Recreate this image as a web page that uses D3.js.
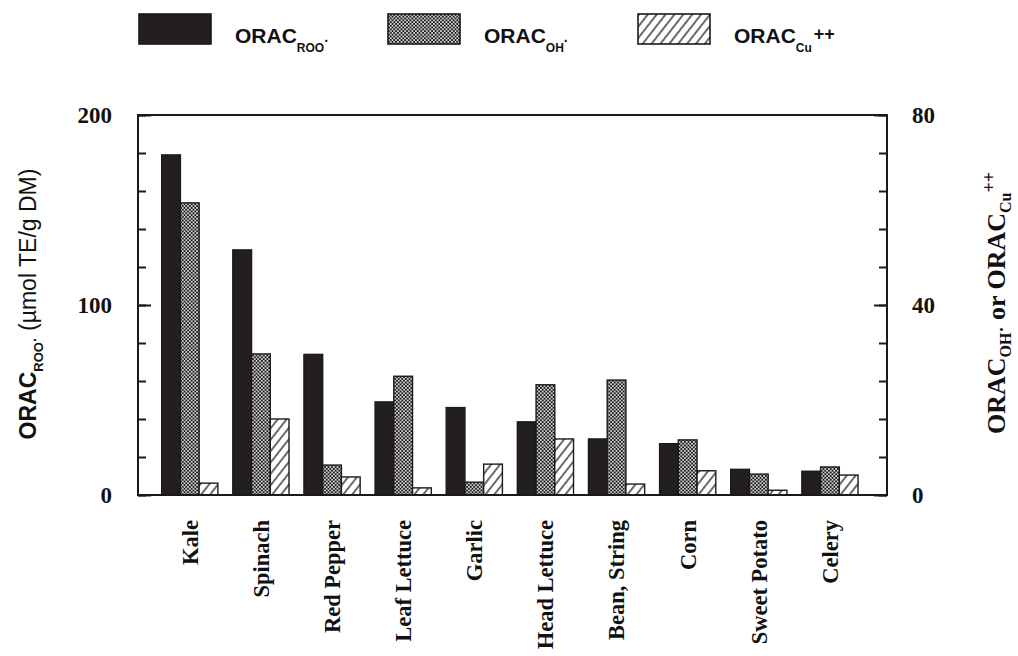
<!DOCTYPE html>
<html lang="en">
<head>
    <meta charset="UTF-8">
    <title>ORAC values of vegetables</title>
    <script src="https://d3js.org/d3.v7.min.js"></script>
    <style>
        html, body {
            margin: 0;
            padding: 0;
            background: #fff;
        }
        svg {
            display: block;
        }
        .tick text {
            font-family: "Liberation Serif", "Times New Roman", serif;
            font-weight: bold;
            font-size: 23px;
            fill: #111;
        }
    </style>
</head>
<body>
    <svg id="chart"></svg>

    <script>
        // vegetables along the x axis
        const categories = ["Kale", "Spinach", "Red Pepper", "Leaf Lettuce", "Garlic",
            "Head Lettuce", "Bean, String", "Corn", "Sweet Potato", "Celery"];

        // ORAC ROO· (left axis, µmol TE/g DM)
        const oracRoo = [179, 129, 74, 49, 46, 38.5, 29.5, 27, 13.5, 12.5];
        // ORAC OH· and ORAC Cu++ (right axis)
        const oracOh = [61.5, 29.7, 6.3, 25, 2.7, 23.2, 24.2, 11.6, 4.4, 5.9];
        const oracCu = [2.5, 16, 3.8, 1.5, 6.5, 11.8, 2.3, 5.1, 1, 4.2];

        const leftTicks = [0, 100, 200];
        const rightTicks = [0, 40, 80];

        const width = 1018, height = 656;
        const plot = { left: 138, right: 887, top: 115, bottom: 495 };

        const svg = d3.select("#chart")
            .attr("width", width)
            .attr("height", height);

        // fill patterns
        const defs = svg.append("defs");
        const checker = defs.append("pattern")
            .attr("id", "checker")
            .attr("patternUnits", "userSpaceOnUse")
            .attr("width", 3.6).attr("height", 3.6);
        checker.append("rect").attr("width", 3.6).attr("height", 3.6).attr("fill", "#1a1a1a");
        checker.append("rect").attr("x", 0.1).attr("y", 0.1).attr("width", 1.6).attr("height", 1.6).attr("fill", "#fff");
        checker.append("rect").attr("x", 1.9).attr("y", 1.9).attr("width", 1.6).attr("height", 1.6).attr("fill", "#fff");

        const hatch = defs.append("pattern")
            .attr("id", "hatch")
            .attr("patternUnits", "userSpaceOnUse")
            .attr("width", 7).attr("height", 7)
            .attr("patternTransform", "rotate(38)");
        hatch.append("rect").attr("width", 7).attr("height", 7).attr("fill", "#fff");
        hatch.append("line")
            .attr("x1", 1).attr("y1", 0).attr("x2", 1).attr("y2", 7)
            .attr("stroke", "#1a1a1a").attr("stroke-width", 1.3);

        const series = [
            { key: "roo", values: oracRoo, fill: "#231f20", axis: "left" },
            { key: "oh", values: oracOh, fill: "url(#checker)", axis: "right" },
            { key: "cu", values: oracCu, fill: "url(#hatch)", axis: "right" }
        ];

        const x0 = d3.scaleBand()
            .domain(categories)
            .range([plot.left, plot.right])
            .paddingInner(0.21)
            .paddingOuter(0.37)
            .align(0.45);

        const x1 = d3.scaleBand()
            .domain(series.map(s => s.key))
            .range([0, x0.bandwidth()]);

        const yLeft = d3.scaleLinear().domain([0, 200]).range([plot.bottom, plot.top]);
        const yRight = d3.scaleLinear().domain([0, 80]).range([plot.bottom, plot.top]);

        // bars
        series.forEach(s => {
            const y = s.axis === "left" ? yLeft : yRight;
            svg.append("g")
                .selectAll("rect")
                .data(s.values)
                .join("rect")
                .attr("x", (d, i) => x0(categories[i]) + x1(s.key))
                .attr("y", d => y(d))
                .attr("width", x1.bandwidth())
                .attr("height", d => y(0) - y(d))
                .attr("fill", s.fill)
                .attr("stroke", "#1a1a1a")
                .attr("stroke-width", 1.4);
        });

        // frame
        svg.append("rect")
            .attr("x", plot.left).attr("y", plot.top)
            .attr("width", plot.right - plot.left)
            .attr("height", plot.bottom - plot.top)
            .attr("fill", "none")
            .attr("stroke", "#1a1a1a")
            .attr("stroke-width", 2);

        // left axis: minor ticks every 20, labelled major ticks
        svg.append("g")
            .attr("transform", `translate(${plot.left},0)`)
            .call(d3.axisLeft(yLeft).tickValues(d3.range(0, 201, 20)).tickSize(-8).tickFormat(""))
            .call(g => g.select(".domain").remove());
        svg.append("g")
            .attr("transform", `translate(${plot.left},0)`)
            .call(d3.axisLeft(yLeft).tickValues(leftTicks).tickSize(-13).tickPadding(26))
            .call(g => g.select(".domain").remove());

        // right axis
        svg.append("g")
            .attr("transform", `translate(${plot.right},0)`)
            .call(d3.axisRight(yRight).tickValues(d3.range(0, 81, 8)).tickSize(-8).tickFormat(""))
            .call(g => g.select(".domain").remove());
        svg.append("g")
            .attr("transform", `translate(${plot.right},0)`)
            .call(d3.axisRight(yRight).tickValues(rightTicks).tickSize(-13).tickPadding(25))
            .call(g => g.select(".domain").remove());

        svg.selectAll(".tick line").attr("stroke", "#1a1a1a").attr("stroke-width", 2);

        // category labels, rotated
        svg.append("g")
            .selectAll("text")
            .data(categories)
            .join("text")
            .attr("transform", d => `translate(${x0(d) + x0.bandwidth() / 2},520) rotate(-90)`)
            .attr("dy", "0.35em")
            .attr("text-anchor", "end")
            .attr("font-family", "'Liberation Serif', 'Times New Roman', serif")
            .attr("font-weight", "bold")
            .attr("font-size", 22.5)
            .attr("fill", "#111")
            .text(d => d);

        // left axis title
        const lt = svg.append("text")
            .attr("transform", "translate(36,304) rotate(-90)")
            .attr("text-anchor", "middle")
            .attr("font-family", "'Liberation Sans', Arial, sans-serif")
            .attr("font-size", 23)
            .attr("fill", "#111");
        lt.append("tspan").attr("font-weight", "bold").text("ORAC");
        lt.append("tspan").attr("font-size", 13).attr("font-weight", "bold").attr("dy", 7).text("ROO");
        lt.append("tspan").attr("font-size", 14).attr("font-weight", "bold").attr("dy", -3).text("·");
        lt.append("tspan").attr("dy", -4).text(" (µmol TE/g DM)");

        // right axis title
        const rt = svg.append("text")
            .attr("transform", "translate(1005,303) rotate(-90)")
            .attr("text-anchor", "middle")
            .attr("font-family", "'Liberation Serif', 'Times New Roman', serif")
            .attr("font-weight", "bold")
            .attr("font-size", 26)
            .attr("fill", "#111");
        rt.append("tspan").text("ORAC");
        rt.append("tspan").attr("font-size", 16).attr("dy", 6).text("OH");
        rt.append("tspan").attr("font-size", 18).attr("dy", -3).text("·");
        rt.append("tspan").attr("dy", -3).text(" or ORAC");
        rt.append("tspan").attr("font-size", 16).attr("dy", 6).text("Cu");
        rt.append("tspan").attr("font-size", 18).attr("dy", -16).text("++");

        // legend
        const legendX = [139, 388, 638];
        const legendSub = ["ROO", "OH", "Cu"];
        const legend = svg.append("g");
        series.forEach((s, i) => {
            const g = legend.append("g").attr("transform", `translate(${legendX[i]},14)`);
            g.append("rect")
                .attr("width", 72).attr("height", 30)
                .attr("fill", s.fill)
                .attr("stroke", "#1a1a1a")
                .attr("stroke-width", 1.6);
            const t = g.append("text")
                .attr("x", 96).attr("y", 29)
                .attr("font-family", "'Liberation Sans', Arial, sans-serif")
                .attr("font-weight", "bold")
                .attr("font-size", 21)
                .attr("fill", "#111");
            t.append("tspan").text("ORAC");
            t.append("tspan").attr("font-size", 12).attr("dy", 9).text(legendSub[i]);
            if (i < 2) {
                t.append("tspan").attr("font-size", 14).attr("dy", -6).text("·");
            } else {
                t.append("tspan").attr("font-size", 18).attr("dx", 2).attr("dy", -12).text("++");
            }
        });
    </script>
</body>
</html>
